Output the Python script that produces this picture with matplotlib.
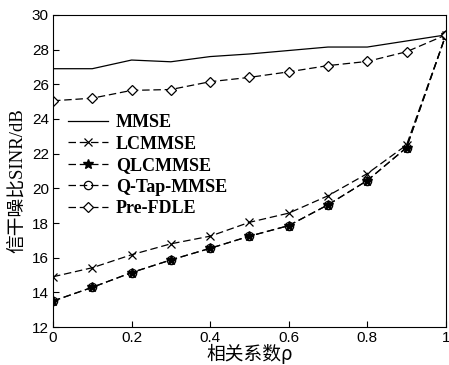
import numpy as np
import matplotlib
matplotlib.use('Agg')
import matplotlib.pyplot as plt

# correlation coefficient rho
rho = [0, 0.1, 0.2, 0.3, 0.4, 0.5, 0.6, 0.7, 0.8, 0.9, 1.0]

# SINR in dB
mmse = [26.9, 26.9, 27.4, 27.3, 27.6, 27.75, 27.95, 28.15, 28.15, 28.5, 28.85]
lcmmse = [14.9, 15.42, 16.17, 16.8, 17.24, 18.04, 18.57, 19.57, 20.85, 22.5, 28.85]
qlcmmse = [13.5, 14.29, 15.14, 15.87, 16.54, 17.24, 17.85, 19.05, 20.45, 22.35, 28.85]
qtap = [13.5, 14.29, 15.14, 15.87, 16.54, 17.24, 17.85, 19.05, 20.45, 22.35, 28.85]
prefdle = [25.05, 25.2, 25.65, 25.7, 26.15, 26.4, 26.72, 27.08, 27.32, 27.88, 28.85]

labels = ['MMSE', 'LCMMSE', 'QLCMMSE', 'Q-Tap-MMSE', 'Pre-FDLE']
xticks = [0, 0.2, 0.4, 0.6, 0.8, 1]
yticks = [12, 14, 16, 18, 20, 22, 24, 26, 28, 30]

fig = plt.figure(figsize=(4.49, 3.65), dpi=100)
ax = fig.add_axes([0.118, 0.104, 0.875, 0.855])

dash = (6, 3)
ax.plot(rho, mmse, 'k-', lw=0.9, label=labels[0])
ax.plot(rho, lcmmse, 'k--', dashes=dash, lw=0.9, marker='x', ms=6, mew=0.9, label=labels[1])
ax.plot(rho, qlcmmse, 'k--', dashes=dash, lw=0.9, marker='*', ms=7, label=labels[2])
ax.plot(rho, qtap, 'k--', dashes=dash, lw=0.9, marker='o', ms=6, mfc='none', mew=0.9, label=labels[3])
ax.plot(rho, prefdle, 'k--', dashes=dash, lw=0.9, marker='D', ms=5, mfc='white', mew=0.9, label=labels[4])

ax.set_xlim(0, 1)
ax.set_ylim(12, 30)
ax.set_xticks(xticks)
ax.set_xticklabels(['0', '0.2', '0.4', '0.6', '0.8', '1'])
ax.set_yticks(yticks)
ax.tick_params(direction='in', length=4, labelsize=11, pad=3)
for t in ax.get_xticklabels() + ax.get_yticklabels():
    t.set_family('Liberation Sans')

ax.set_xlabel('相关系数ρ', fontsize=13.5, family=['Noto Sans CJK SC', 'DejaVu Sans'], labelpad=-1)
ax.set_ylabel('信干噪比SINR/dB', fontsize=13.5, family=['Liberation Serif', 'Noto Sans CJK SC'])
ax.yaxis.set_label_coords(-0.068, 0.47)

leg = ax.legend(loc='upper left', bbox_to_anchor=(0.02, 0.705), frameon=False,
                prop={'family': 'Liberation Serif', 'size': 13, 'weight': 'bold'},
                handlelength=2.2, handletextpad=0.45, labelspacing=0.25, borderaxespad=0)

fig.savefig('out.png', dpi=100)
